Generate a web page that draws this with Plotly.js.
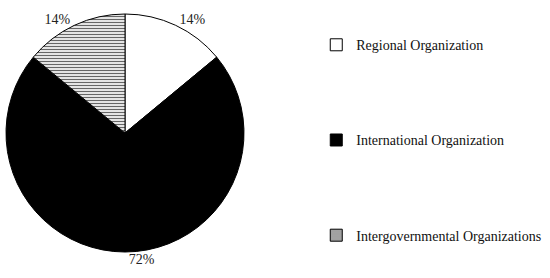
<!DOCTYPE html>
<html>
<head>
<meta charset="utf-8">
<script src="https://cdn.plot.ly/plotly-3.0.1.min.js"></script>
<style>
  body { margin: 0; background: #fff; }
  #plotArea { width: 550px; height: 278px; }
</style>
</head>
<body>
<div id="plotArea"></div>
<script>
// organization types and their shares (%)
var orgLabels = ["Regional Organization", "International Organization", "Intergovernmental Organizations"];
var orgShares = [14, 72, 14];
var sliceColors = ["#ffffff", "#000000", "#ffffff"];
var slicePatterns = ["", "", "-"];

var pieTrace = {
    type: "pie",
    labels: orgLabels,
    values: orgShares,
    sort: false,
    direction: "clockwise",
    rotation: 0,
    textinfo: "percent",
    textposition: "outside",
    outsidetextfont: {family: "Liberation Serif", size: 14, color: "#222"},
    marker: {
        colors: sliceColors,
        line: {color: "#000", width: 1},
        pattern: {shape: slicePatterns, fgcolor: "#666", bgcolor: "#fff", size: 3, solidity: 0.45}
    },
    showlegend: false,
    hoverinfo: "none"
};

// legend entries, one group each so the gap between them can be set
var legendTraces = orgLabels.map(function(name, i) {
    return {
        type: "bar",
        x: [null],
        y: [null],
        name: name,
        legendgroup: "g" + i,
        marker: {
            color: sliceColors[i],
            line: {color: "#000", width: 1},
            pattern: {shape: slicePatterns[i], fgcolor: "#444", bgcolor: "#fff", size: 2, solidity: 0.5}
        },
        hoverinfo: "none"
    };
});

var layout = {
    width: 550,
    height: 278,
    margin: {l: 5, r: 305, t: 14, b: 26},
    paper_bgcolor: "#fff",
    plot_bgcolor: "rgba(0,0,0,0)",
    font: {family: "Liberation Serif", size: 14, color: "#000"},
    xaxis: {visible: false},
    yaxis: {visible: false},
    showlegend: true,
    legend: {
        xref: "container", yref: "container",
        x: 0.575, y: 0.895, xanchor: "left", yanchor: "top",
        traceorder: "grouped",
        tracegroupgap: 74,
        itemwidth: 30,
        maxheight: 1,
        font: {family: "Liberation Serif", size: 14, color: "#111"}
    }
};

Plotly.newPlot("plotArea", [pieTrace].concat(legendTraces), layout, {displayModeBar: false});
</script>
</body>
</html>
